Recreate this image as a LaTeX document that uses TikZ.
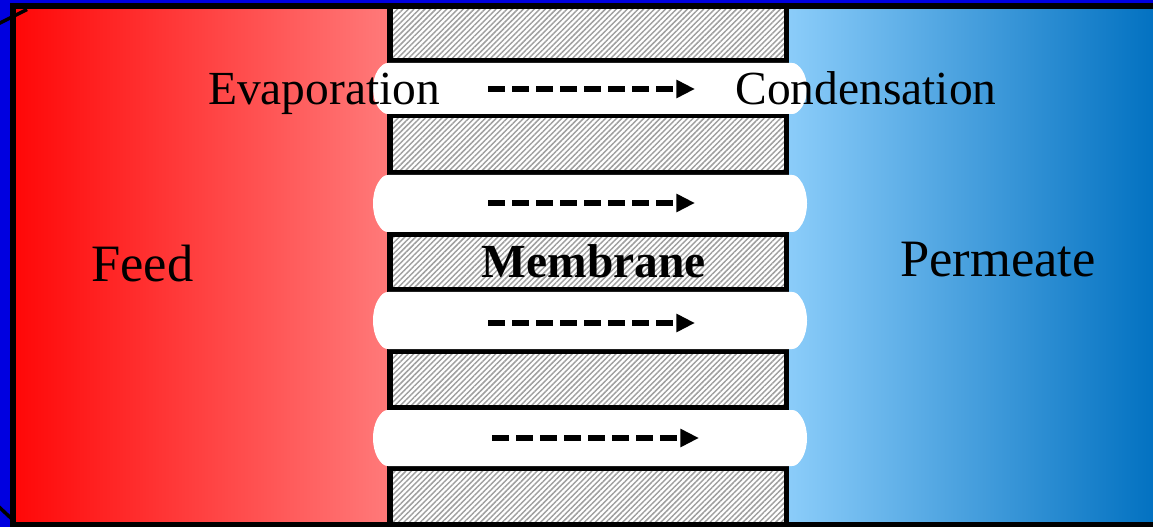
\documentclass[tikz,border=0pt]{standalone}
\usepackage{fontspec}
\setmainfont{Liberation Serif}
\usetikzlibrary{arrows.meta,patterns.meta}

\definecolor{bgblue}{RGB}{0,0,224}
\definecolor{feedL}{RGB}{255,8,8}
\definecolor{feedR}{RGB}{255,122,122}
\definecolor{permL}{RGB}{140,205,250}
\definecolor{permR}{RGB}{0,112,192}
\definecolor{hatch}{RGB}{160,160,160}

\tikzset{
  slab/.style={draw=black, line width=4.2pt,
    pattern={Lines[angle=45,distance=2.9pt,line width=1.1pt]}, pattern color=hatch},
  flow/.style={line width=4pt, dash pattern=on 12.5pt off 5.5pt,
    -{Triangle[length=14pt,width=13pt]}},
  frameline/.style={line width=4.5pt},
  label/.style={anchor=base, inner sep=0pt, text=black},
}

% a pore: white channel with rounded ends, #1 = top, #2 = bottom
\newcommand{\porechannel}[2]{%
  \fill[white, rounded corners=6pt] (380,#1) rectangle (800,#2);
  \fill[white] (389,{(#1+#2)/2}) ellipse [x radius=16, y radius={(#2-#1)/2}];
  \fill[white] (791,{(#1+#2)/2}) ellipse [x radius=16, y radius={(#2-#1)/2}];
}

\begin{document}
\begin{tikzpicture}[x=0.75pt,y=-0.75pt]
\useasboundingbox (0,0) rectangle (1153,527);
\clip (0,0) rectangle (1153,527);

% backdrop
\fill[bgblue] (0,0) rectangle (1153,527);

% feed and permeate sides
\shade[left color=feedL, right color=feedR] (16,9) rectangle (390,522);
\shade[left color=permL, right color=permR] (786,9) rectangle (1160,522);

% membrane body
\fill[white] (390,6) rectangle (786.5,524.5);
\path[slab] (390,6)     rectangle (786.5,60.5);
\path[slab] (390,115.5) rectangle (786.5,172.5);
\path[slab] (390,234.5) rectangle (786.5,289.5);
\path[slab] (390,351)   rectangle (786.5,407.5);
\path[slab] (390,468)   rectangle (786.5,524.5);

% pores through the membrane
\porechannel{63}{114}
\porechannel{175}{232}
\porechannel{292}{349}
\porechannel{410}{466}

% outer frame
\draw[frameline] (1170,6) -- (13,6) -- (13,524.5) -- (1170,524.5);
\draw[line width=2.6pt] (-2,24) -- (27,9.5);
\draw[line width=2.6pt] (-2,506) -- (14,521);

% vapour flow through the pores
\coordinate (a1s) at (488,89);  \coordinate (a1e) at (695,89);
\coordinate (a2s) at (488,203); \coordinate (a2e) at (695,203);
\coordinate (a3s) at (488,323); \coordinate (a3e) at (695,323);
\coordinate (a4s) at (492,438); \coordinate (a4e) at (699,438);
\draw[flow] (a1s) -- (a1e);
\draw[flow] (a2s) -- (a2e);
\draw[flow] (a3s) -- (a3e);
\draw[flow] (a4s) -- (a4e);

% labels
\node[label, font=\fontsize{35.6}{40}\selectfont] (evap) at (324,105) {Evaporation};
\node[label, font=\fontsize{35.6}{40}\selectfont] (cond) at (866,105) {Condensation};
\node[label, font=\fontsize{39.4}{44}\selectfont] (feed) at (142.5,282) {Feed};
\node[label, font=\fontsize{39.4}{44}\selectfont] (perm) at (998,277) {Permeate};
\node[label, font=\fontsize{35.6}{40}\selectfont\bfseries] (memb) at (594,278) {Membrane};
\end{tikzpicture}
\end{document}
